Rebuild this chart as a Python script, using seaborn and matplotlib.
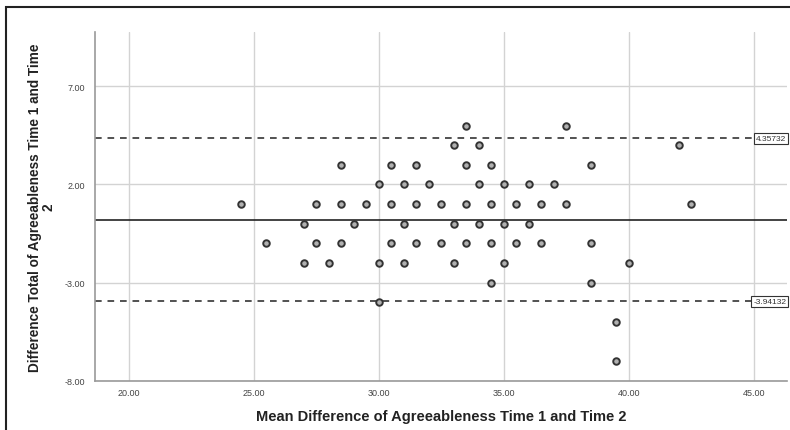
import matplotlib
matplotlib.use('Agg')
import pandas as pd
import seaborn as sns
import matplotlib.pyplot as plt
from matplotlib.patches import Rectangle
from matplotlib.transforms import blended_transform_factory

# mean of the two times (x) and difference (y), one row of the plot per line
mean_scores = [33.5, 37.5,
               33.0, 34.0, 42.0,
               28.5, 30.5, 31.5, 33.5, 34.5, 38.5,
               30.0, 31.0, 32.0, 34.0, 35.0, 36.0, 37.0,
               24.5, 27.5, 28.5, 29.5, 30.5, 31.5, 32.5, 33.5, 34.5, 35.5, 36.5, 37.5, 42.5,
               27.0, 29.0, 31.0, 33.0, 34.0, 35.0, 36.0,
               25.5, 27.5, 28.5, 30.5, 31.5, 32.5, 33.5, 34.5, 35.5, 36.5, 38.5,
               27.0, 28.0, 30.0, 31.0, 33.0, 35.0, 40.0,
               34.5, 38.5,
               30.0,
               39.5,
               39.5]
diff_scores = [5] * 2 + [4] * 3 + [3] * 6 + [2] * 7 + [1] * 13 + [0] * 7 \
    + [-1] * 11 + [-2] * 7 + [-3] * 2 + [-4] + [-5] + [-7]

upper_loa = 4.35732
lower_loa = -3.94132
mean_diff = (upper_loa + lower_loa) / 2

x_ticks = [20, 25, 30, 35, 40, 45]
y_ticks = [-8, -3, 2, 7]

df = pd.DataFrame({'mean': mean_scores, 'diff': diff_scores})

sns.set_style('white')
plt.rcParams['font.family'] = ['Liberation Sans', 'DejaVu Sans']

fig = plt.figure(figsize=(7.9, 4.31), dpi=100)
ax = fig.add_axes([0.1203, 0.1137, 0.8757, 0.8097])

ax.set_xlim(18.64, 46.32)
ax.set_ylim(-8, 9.76)
ax.set_xticks(x_ticks)
ax.set_yticks(y_ticks)
ax.set_xticklabels([f'{v:.2f}' for v in x_ticks])
ax.set_yticklabels([f'{v:.2f}' for v in y_ticks])
ax.grid(True, color='#d3d3d3', linewidth=1)
ax.set_axisbelow(True)
ax.tick_params(axis='x', length=0, labelsize=6.5, colors='#444444', pad=5)
ax.tick_params(axis='y', length=0, labelsize=6.5, colors='#444444', pad=7)

for s in ['top', 'right']:
    ax.spines[s].set_visible(False)
for s in ['left', 'bottom']:
    ax.spines[s].set_color('#9a9a9a')
    ax.spines[s].set_linewidth(1.2)

ax.axhline(mean_diff, color='#222222', linewidth=1.2, zorder=2)
for v in [upper_loa, lower_loa]:
    ax.axhline(v, color='#333333', linewidth=1.2, dashes=(4, 3.5), zorder=2)
    ax.text(0.999, v, f'{v:.5f}', transform=blended_transform_factory(ax.transAxes, ax.transData),
            ha='right', va='center', fontsize=6, color='#333333', zorder=4,
            bbox=dict(boxstyle='square,pad=0.25', facecolor='white', edgecolor='#333333', linewidth=0.8))

sns.scatterplot(data=df, x='mean', y='diff', ax=ax, s=22, color='#b0b0b0',
                edgecolor='#333333', linewidth=1.4, zorder=3)

ax.set_xlabel('Mean Difference of Agreeableness Time 1 and Time 2', fontsize=10.5,
              fontweight='bold', color='#222222', labelpad=9)
ax.set_ylabel('Difference Total of Agreeableness Time 1 and Time\n2', fontsize=9.8,
              fontweight='bold', color='#222222', labelpad=7, linespacing=0.9)

# outer frame of the exported chart
fig.add_artist(Rectangle((0.007, -0.5), 1.5, 0.5 + 0.981, transform=fig.transFigure,
                         fill=False, edgecolor='#222222', linewidth=1.5))

fig.savefig('out.png', dpi=100)
